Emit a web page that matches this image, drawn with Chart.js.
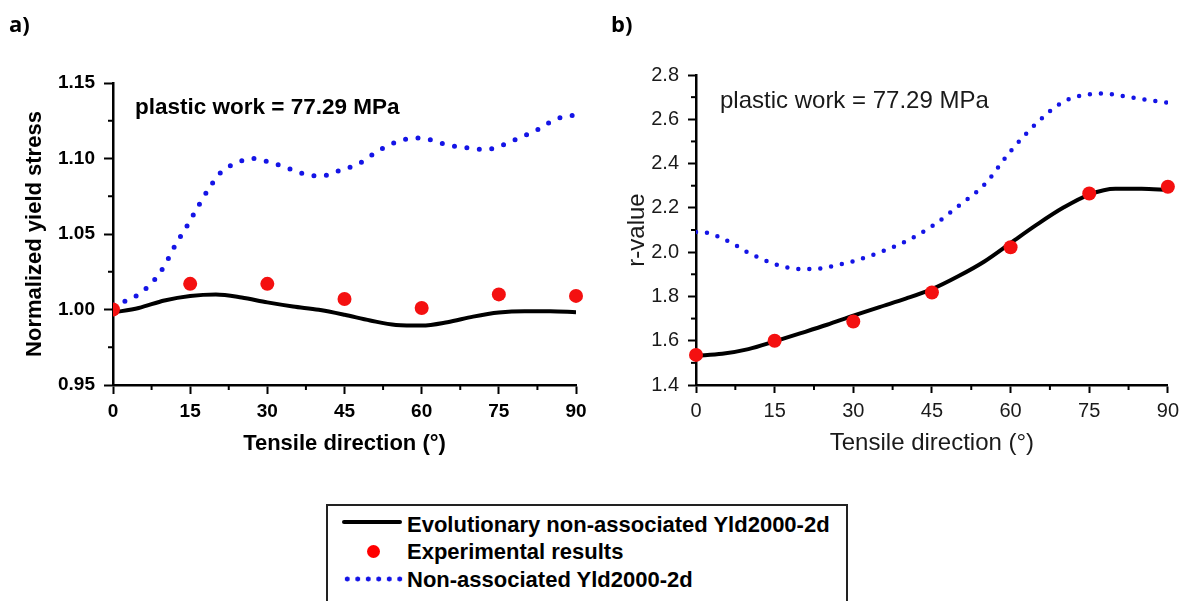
<!DOCTYPE html>
<html>
<head>
<meta charset="utf-8">
<script src="https://cdn.jsdelivr.net/npm/chart.js@4.4.1/dist/chart.umd.min.js"></script>
<style>
  html, body { margin: 0; padding: 0; background: #fff; }
  body { width: 1185px; height: 601px; position: relative; overflow: hidden; font-family: "Liberation Sans", Arial, sans-serif; color: #000; }
  .panel { position: absolute; top: 0; height: 470px; }
  #leftWrap { left: 0; width: 600px; }
  #rightWrap { left: 600px; width: 585px; }
  .txt { position: absolute; white-space: nowrap; line-height: 1; }
  .tag { font-weight: bold; font-size: 22px; top: 12px; font-family: "Open Sans", "Liberation Sans", sans-serif; }
  #tagA { left: 9px; }
  #tagB { left: 611px; }
  #noteA { left: 135px; top: 96px; font-size: 22.5px; font-weight: bold; }
  #noteB { left: 720px; top: 88px; font-size: 24px; color: #1a1a1a; }
  #legend { position: absolute; left: 326px; top: 504px; width: 518px; height: 120px; border: 2px solid #222; }
  .legText { position: absolute; left: 79px; font-size: 22px; font-weight: bold; line-height: 22px; white-space: nowrap; }
  .sample { position: absolute; }
</style>
</head>
<body>
<div class="panel" id="leftWrap"><canvas id="yieldChart" width="600" height="470"></canvas></div>
<div class="panel" id="rightWrap"><canvas id="rValueChart" width="585" height="470"></canvas></div>

<div class="txt tag" id="tagA">a)</div>
<div class="txt tag" id="tagB">b)</div>
<div class="txt" id="noteA">plastic work = 77.29 MPa</div>
<div class="txt" id="noteB">plastic work = 77.29 MPa</div>

<div id="legend">
  <div class="sample" style="left:14px; top:14px; width:60px; height:4px; background:#000; border-radius:2px;"></div>
  <div class="legText" style="top:8px;">Evolutionary non-associated Yld2000-2d</div>
  <div class="sample" style="left:39px; top:39px; width:13px; height:13px; background:#f00; border-radius:50%;"></div>
  <div class="legText" style="top:35px;">Experimental results</div>
  <div class="sample" style="left:14px; top:70px; width:62px; height:6px; background:radial-gradient(circle, #1414e6 2.2px, transparent 2.8px) 0 0/10.5px 6px repeat-x;"></div>
  <div class="legText" style="top:63px;">Non-associated Yld2000-2d</div>
</div>

<script>
const testAngles = [0, 15, 30, 45, 60, 75, 90];

// a) normalized yield stress
const yieldExperiment = [1.000, 1.017, 1.017, 1.007, 1.001, 1.010, 1.009];
const yieldEvoAngles = [0, 5, 10, 15, 20, 25, 30, 35, 40, 45, 50, 55, 60, 65, 70, 75, 80, 85, 90];
const yieldEvo = [0.998, 1.001, 1.006, 1.009, 1.010, 1.008, 1.0047, 1.002, 0.9998, 0.9965, 0.9927, 0.9898, 0.9894, 0.9916, 0.9953, 0.998, 0.9989, 0.9989, 0.9982];
const yieldNonAssocAngles = [0, 4, 7.5, 10, 12, 14.5, 16.5, 19, 21, 24, 27, 30, 34.5, 38, 40.5, 44, 48, 51.5, 55.5, 59, 61, 65, 69, 72.5, 75, 78.5, 82.5, 86, 90];
const yieldNonAssoc = [1.003, 1.008, 1.0175, 1.029, 1.042, 1.056, 1.068, 1.082, 1.091, 1.097, 1.100, 1.098, 1.093, 1.089, 1.0885, 1.092, 1.097, 1.105, 1.1115, 1.1135, 1.113, 1.109, 1.107, 1.106, 1.108, 1.113, 1.119, 1.126, 1.129];
const yieldTicks = { min: 0.95, max: 1.15, step: 0.05 };

// b) r-value
const rExperiment = [1.536, 1.600, 1.687, 1.818, 2.022, 2.265, 2.295];
const rEvoAngles = [0, 5, 10, 15, 20, 25, 30, 35, 40, 45, 50, 55, 60, 65, 70, 75, 80, 85, 90];
const rEvo = [1.532, 1.541, 1.562, 1.597, 1.634, 1.672, 1.713, 1.752, 1.790, 1.833, 1.891, 1.958, 2.041, 2.124, 2.200, 2.260, 2.286, 2.286, 2.280];
const rNonAssocAngles = [0, 2.5, 5, 7.5, 10, 12.5, 15, 17.5, 20, 22.5, 25, 27.5, 30, 35, 40, 45, 50, 55, 60, 65, 70, 75, 78, 81, 84, 87, 90];
const rNonAssoc = [2.091, 2.086, 2.062, 2.032, 1.997, 1.970, 1.946, 1.930, 1.924, 1.924, 1.932, 1.945, 1.959, 1.999, 2.049, 2.117, 2.207, 2.305, 2.456, 2.583, 2.678, 2.713, 2.716, 2.707, 2.695, 2.684, 2.675];
const rTicks = { min: 1.4, max: 2.8, step: 0.2 };

const angleTicks = { min: 0, max: 90, step: 15 };

const FONT = "'Liberation Sans', Arial, sans-serif";

function toPoints(xs, ys) {
  return xs.map((x, i) => ({ x, y: ys[i] }));
}

// short ticks halfway between the labelled ones
const minorTicks = {
  id: "minorTicks",
  beforeDatasetsDraw(chart, args, opts) {
    const ctx = chart.ctx;
    ctx.save();
    ctx.strokeStyle = "#000";
    ctx.lineWidth = 2;
    ["x", "y"].forEach((id) => {
      const scale = chart.scales[id];
      const step = opts[id];
      if (!step) return;
      for (let v = scale.min + step / 2; v < scale.max; v += step) {
        const p = scale.getPixelForValue(v);
        ctx.beginPath();
        if (id === "x") {
          ctx.moveTo(p, chart.chartArea.bottom);
          ctx.lineTo(p, chart.chartArea.bottom + 5);
        } else {
          ctx.moveTo(chart.chartArea.left, p);
          ctx.lineTo(chart.chartArea.left - 5, p);
        }
        ctx.stroke();
      }
    });
    ctx.restore();
  }
};

function panelOptions(cfg) {
  const weight = cfg.bold ? "bold" : "normal";
  const color = cfg.bold ? "#000" : "#1a1a1a";
  return {
    responsive: false,
    animation: false,
    layout: { padding: cfg.padding },
    plugins: {
      legend: { display: false },
      tooltip: { enabled: false },
      minorTicks: { x: angleTicks.step, y: cfg.yTicks.step }
    },
    scales: {
      x: {
        type: "linear",
        min: angleTicks.min,
        max: angleTicks.max,
        afterFit: (scale) => { scale.height = 85; },
        border: { display: true, color: "#000", width: 2.5 },
        grid: { drawOnChartArea: false, drawTicks: true, tickLength: cfg.tickLength, tickWidth: 2, tickColor: "#000" },
        ticks: {
          stepSize: angleTicks.step,
          padding: 6,
          maxRotation: 0,
          color: color,
          font: { family: FONT, size: cfg.tickSize, weight: weight }
        },
        title: {
          display: true,
          text: "Tensile direction (°)",
          color: color,
          padding: { top: 0, bottom: cfg.xTitlePad },
          font: { family: FONT, size: cfg.titleSize, weight: weight }
        }
      },
      y: {
        type: "linear",
        min: cfg.yTicks.min,
        max: cfg.yTicks.max,
        afterFit: (scale) => { scale.width = cfg.yWidth; },
        border: { display: true, color: "#000", width: 2.5 },
        grid: { drawOnChartArea: false, drawTicks: true, tickLength: cfg.tickLength, tickWidth: 2, tickColor: "#000" },
        ticks: {
          stepSize: cfg.yTicks.step,
          padding: 9,
          color: color,
          font: { family: FONT, size: cfg.tickSize, weight: weight },
          callback: (value) => Number(value).toFixed(cfg.decimals)
        },
        title: {
          display: true,
          text: cfg.yTitle,
          color: color,
          padding: { top: cfg.yTitlePad, bottom: 0 },
          font: { family: FONT, size: cfg.titleSize, weight: weight }
        }
      }
    }
  };
}

function panelData(expPoints, evoPoints, nonAssocPoints, dash, dotSize, clipExp) {
  return {
    datasets: [
      {
        type: "scatter",
        label: "Experimental results",
        data: expPoints,
        showLine: false,
        pointRadius: 7,
        pointBackgroundColor: "#f41010",
        pointBorderWidth: 0,
        clip: clipExp
      },
      {
        type: "line",
        label: "Evolutionary non-associated Yld2000-2d",
        data: evoPoints,
        borderColor: "#000",
        borderWidth: 4,
        pointRadius: 0,
        cubicInterpolationMode: "monotone",
        fill: false
      },
      {
        type: "line",
        label: "Non-associated Yld2000-2d",
        data: nonAssocPoints,
        borderColor: "#1414e6",
        borderWidth: dotSize,
        borderDash: dash,
        borderCapStyle: "round",
        pointRadius: 0,
        cubicInterpolationMode: "monotone",
        fill: false
      }
    ]
  };
}

new Chart(document.getElementById("yieldChart"), {
  type: "scatter",
  data: panelData(
    toPoints(testAngles, yieldExperiment),
    toPoints(yieldEvoAngles, yieldEvo),
    toPoints(yieldNonAssocAngles, yieldNonAssoc),
    [0, 12.5], 5,
    { left: 0, right: false, top: false, bottom: false }
  ),
  options: panelOptions({
    bold: true,
    padding: { top: 83, right: 24, left: 0, bottom: 0 },
    yWidth: 113,
    yTicks: yieldTicks,
    decimals: 2,
    tickLength: 9,
    tickSize: 19,
    titleSize: 22,
    xTitlePad: 13,
    yTitlePad: 22,
    yTitle: "Normalized yield stress"
  }),
  plugins: [minorTicks]
});

new Chart(document.getElementById("rValueChart"), {
  type: "scatter",
  data: panelData(
    toPoints(testAngles, rExperiment),
    toPoints(rEvoAngles, rEvo),
    toPoints(rNonAssocAngles, rNonAssoc),
    [0, 11], 4.5,
    false
  ),
  options: panelOptions({
    bold: false,
    padding: { top: 75, right: 15, left: 0, bottom: 0 },
    yWidth: 96,
    yTicks: rTicks,
    decimals: 1,
    tickLength: 8,
    tickSize: 20,
    titleSize: 24,
    xTitlePad: 12,
    yTitlePad: 23,
    yTitle: "r-value"
  }),
  plugins: [minorTicks]
});
</script>
</body>
</html>
